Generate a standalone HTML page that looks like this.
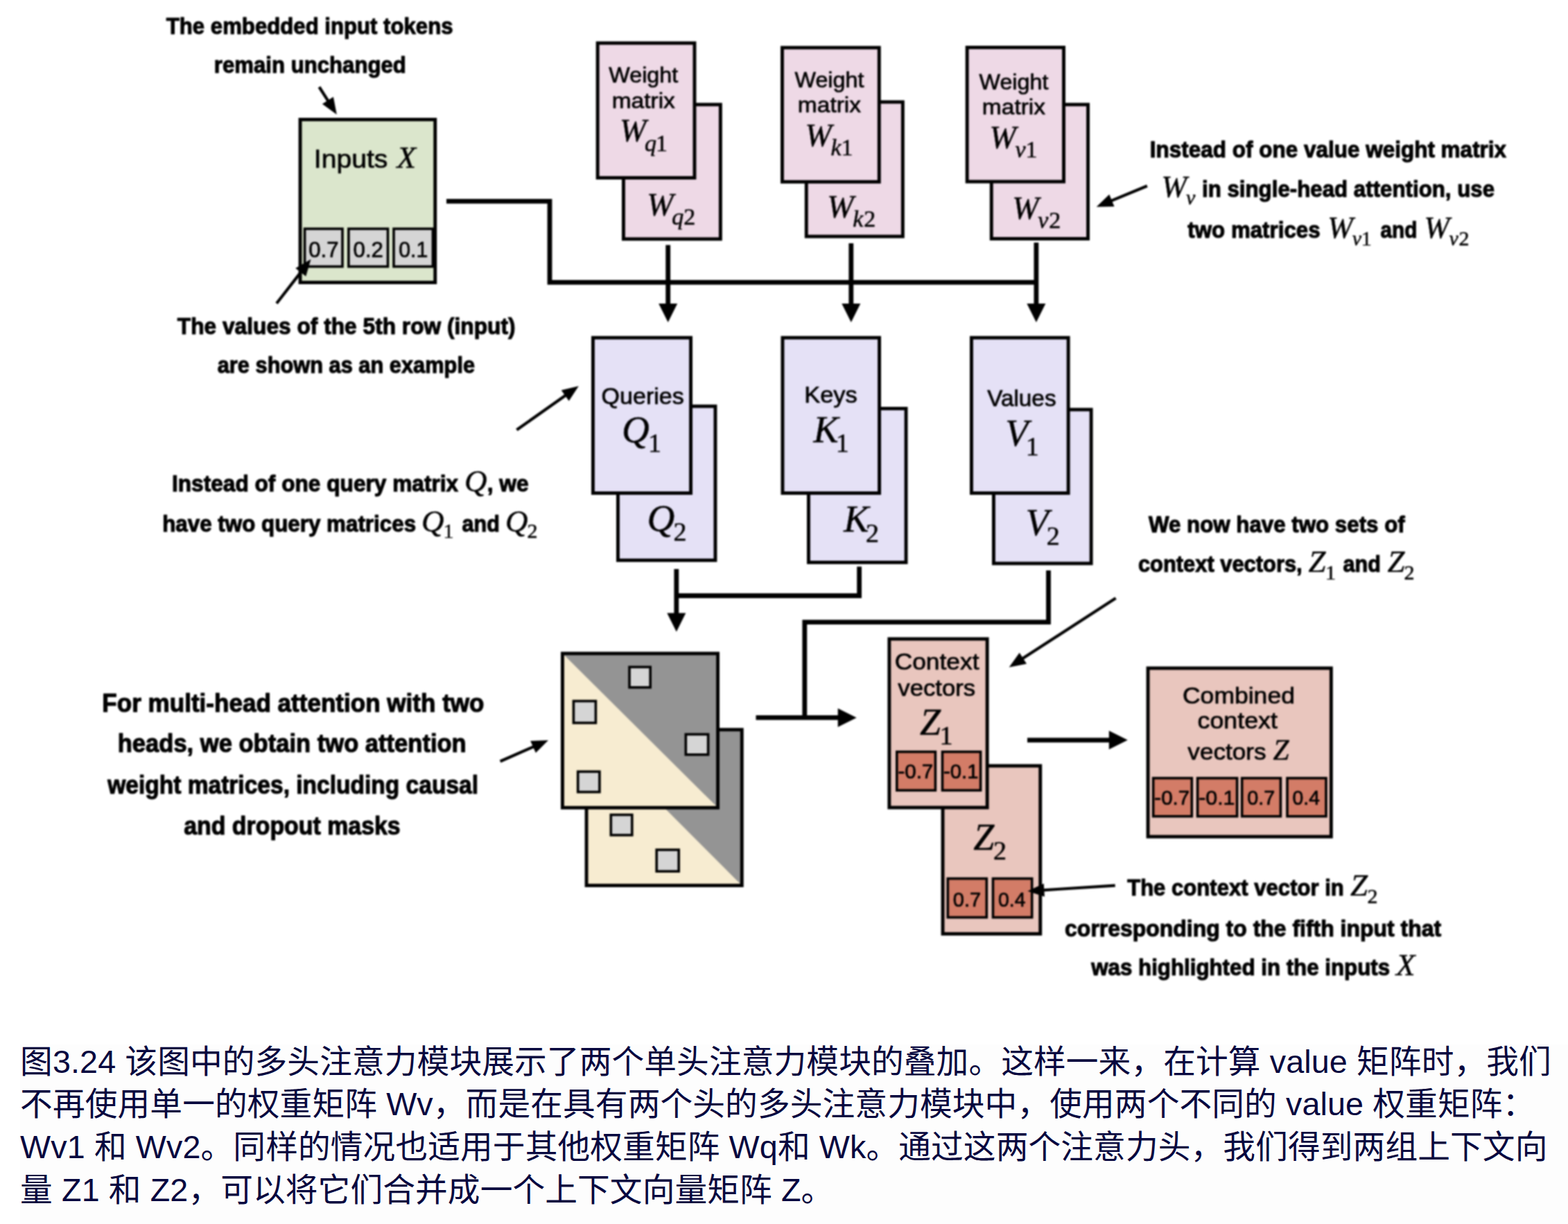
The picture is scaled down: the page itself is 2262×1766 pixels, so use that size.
<!DOCTYPE html>
<html lang="zh-CN">
<head>
<meta charset="utf-8">
<title>图3.24 多头注意力模块</title>
<style>
html,body{margin:0;padding:0;background:#fff;}
body{width:2262px;height:1766px;}
svg{display:block;}
text{white-space:pre;}
</style>
</head>
<body>
<svg width="2262" height="1766" viewBox="0 0 2262 1766">
<defs>
<filter id="soft" x="0" y="0" width="2262" height="1766" filterUnits="userSpaceOnUse" color-interpolation-filters="sRGB"><feGaussianBlur stdDeviation="0.85"/></filter>
</defs>
<rect x="0" y="0" width="2262" height="1766" fill="#ffffff"/>
<rect x="29" y="1507" width="2233" height="259" fill="#fdfdfd"/>
<g filter="url(#soft)">
<rect x="433.05" y="172.45" width="194.70" height="235.10" fill="#dbe6cc" stroke="#000" stroke-width="4.9"/>
<text x="452.82" y="241.80" font-family='"Liberation Sans", sans-serif' font-size="37.5" font-weight="normal" font-style="normal" fill="#000" stroke="#000" stroke-width="0.7" stroke-linejoin="round" textLength="106.61" lengthAdjust="spacingAndGlyphs">Inputs</text>
<text x="572.40" y="241.80" font-family='"Liberation Serif", serif' font-size="45" font-style="italic" fill="#000" stroke="#000" stroke-width="0.5" stroke-linejoin="round">X</text>
<rect x="439.60" y="330.10" width="54.40" height="54.50" fill="#d5d5d5" stroke="#000" stroke-width="3.6"/>
<text x="445.24" y="370.50" font-family='"Liberation Sans", sans-serif' font-size="31" font-weight="normal" font-style="normal" fill="#000" stroke="#000" stroke-width="0.7" stroke-linejoin="round" textLength="43.35" lengthAdjust="spacingAndGlyphs">0.7</text>
<rect x="502.90" y="330.10" width="56.60" height="54.50" fill="#d5d5d5" stroke="#000" stroke-width="3.6"/>
<text x="509.64" y="370.50" font-family='"Liberation Sans", sans-serif' font-size="31" font-weight="normal" font-style="normal" fill="#000" stroke="#000" stroke-width="0.7" stroke-linejoin="round" textLength="43.35" lengthAdjust="spacingAndGlyphs">0.2</text>
<rect x="568.00" y="330.10" width="56.40" height="54.50" fill="#d5d5d5" stroke="#000" stroke-width="3.6"/>
<text x="575.27" y="370.50" font-family='"Liberation Sans", sans-serif' font-size="31" font-weight="normal" font-style="normal" fill="#000" stroke="#000" stroke-width="0.7" stroke-linejoin="round" textLength="42.09" lengthAdjust="spacingAndGlyphs">0.1</text>
<rect x="899.45" y="150.85" width="139.90" height="194.00" fill="#eed9e6" stroke="#000" stroke-width="4.9"/>
<rect x="862.15" y="62.15" width="139.80" height="194.40" fill="#eed9e6" stroke="#000" stroke-width="4.9"/>
<rect x="1163.25" y="147.15" width="139.10" height="194.00" fill="#eed9e6" stroke="#000" stroke-width="4.9"/>
<rect x="1128.45" y="68.75" width="139.80" height="193.60" fill="#eed9e6" stroke="#000" stroke-width="4.9"/>
<rect x="1430.25" y="150.85" width="139.30" height="193.60" fill="#eed9e6" stroke="#000" stroke-width="4.9"/>
<rect x="1395.15" y="68.45" width="139.40" height="193.60" fill="#eed9e6" stroke="#000" stroke-width="4.9"/>
<text x="878.35" y="119.40" font-family='"Liberation Sans", sans-serif' font-size="32" font-weight="normal" font-style="normal" fill="#000" stroke="#000" stroke-width="0.7" stroke-linejoin="round" textLength="99.79" lengthAdjust="spacingAndGlyphs">Weight</text>
<text x="882.66" y="155.60" font-family='"Liberation Sans", sans-serif' font-size="32" font-weight="normal" font-style="normal" fill="#000" stroke="#000" stroke-width="0.7" stroke-linejoin="round" textLength="91.19" lengthAdjust="spacingAndGlyphs">matrix</text>
<text x="1146.55" y="125.90" font-family='"Liberation Sans", sans-serif' font-size="32" font-weight="normal" font-style="normal" fill="#000" stroke="#000" stroke-width="0.7" stroke-linejoin="round" textLength="99.79" lengthAdjust="spacingAndGlyphs">Weight</text>
<text x="1150.86" y="162.10" font-family='"Liberation Sans", sans-serif' font-size="32" font-weight="normal" font-style="normal" fill="#000" stroke="#000" stroke-width="0.7" stroke-linejoin="round" textLength="91.19" lengthAdjust="spacingAndGlyphs">matrix</text>
<text x="1412.55" y="128.90" font-family='"Liberation Sans", sans-serif' font-size="32" font-weight="normal" font-style="normal" fill="#000" stroke="#000" stroke-width="0.7" stroke-linejoin="round" textLength="99.79" lengthAdjust="spacingAndGlyphs">Weight</text>
<text x="1416.86" y="165.10" font-family='"Liberation Sans", sans-serif' font-size="32" font-weight="normal" font-style="normal" fill="#000" stroke="#000" stroke-width="0.7" stroke-linejoin="round" textLength="91.19" lengthAdjust="spacingAndGlyphs">matrix</text>
<text x="894.00" y="204.30" font-family='"Liberation Serif", serif' font-size="46" font-style="italic" fill="#000" stroke="#000" stroke-width="0.5" stroke-linejoin="round">W</text>
<text x="930.00" y="217.50" font-family='"Liberation Serif", serif' font-size="34" font-style="italic" fill="#000" stroke="#000" stroke-width="0.5" stroke-linejoin="round">q</text>
<text x="946.00" y="217.50" font-family='"Liberation Serif", serif' font-size="34" font-style="normal" fill="#000" stroke="#000" stroke-width="0.5" stroke-linejoin="round">1</text>
<text x="1161.50" y="210.80" font-family='"Liberation Serif", serif' font-size="46" font-style="italic" fill="#000" stroke="#000" stroke-width="0.5" stroke-linejoin="round">W</text>
<text x="1198.50" y="224.00" font-family='"Liberation Serif", serif' font-size="34" font-style="italic" fill="#000" stroke="#000" stroke-width="0.5" stroke-linejoin="round">k</text>
<text x="1213.50" y="224.00" font-family='"Liberation Serif", serif' font-size="34" font-style="normal" fill="#000" stroke="#000" stroke-width="0.5" stroke-linejoin="round">1</text>
<text x="1427.50" y="213.80" font-family='"Liberation Serif", serif' font-size="46" font-style="italic" fill="#000" stroke="#000" stroke-width="0.5" stroke-linejoin="round">W</text>
<text x="1464.50" y="227.00" font-family='"Liberation Serif", serif' font-size="34" font-style="italic" fill="#000" stroke="#000" stroke-width="0.5" stroke-linejoin="round">v</text>
<text x="1479.50" y="227.00" font-family='"Liberation Serif", serif' font-size="34" font-style="normal" fill="#000" stroke="#000" stroke-width="0.5" stroke-linejoin="round">1</text>
<text x="933.30" y="311.20" font-family='"Liberation Serif", serif' font-size="46" font-style="italic" fill="#000" stroke="#000" stroke-width="0.5" stroke-linejoin="round">W</text>
<text x="969.30" y="324.40" font-family='"Liberation Serif", serif' font-size="34" font-style="italic" fill="#000" stroke="#000" stroke-width="0.5" stroke-linejoin="round">q</text>
<text x="986.30" y="324.40" font-family='"Liberation Serif", serif' font-size="34" font-style="normal" fill="#000" stroke="#000" stroke-width="0.5" stroke-linejoin="round">2</text>
<text x="1193.30" y="314.00" font-family='"Liberation Serif", serif' font-size="46" font-style="italic" fill="#000" stroke="#000" stroke-width="0.5" stroke-linejoin="round">W</text>
<text x="1230.30" y="327.20" font-family='"Liberation Serif", serif' font-size="34" font-style="italic" fill="#000" stroke="#000" stroke-width="0.5" stroke-linejoin="round">k</text>
<text x="1246.30" y="327.20" font-family='"Liberation Serif", serif' font-size="34" font-style="normal" fill="#000" stroke="#000" stroke-width="0.5" stroke-linejoin="round">2</text>
<text x="1460.30" y="316.20" font-family='"Liberation Serif", serif' font-size="46" font-style="italic" fill="#000" stroke="#000" stroke-width="0.5" stroke-linejoin="round">W</text>
<text x="1497.30" y="329.40" font-family='"Liberation Serif", serif' font-size="34" font-style="italic" fill="#000" stroke="#000" stroke-width="0.5" stroke-linejoin="round">v</text>
<text x="1513.30" y="329.40" font-family='"Liberation Serif", serif' font-size="34" font-style="normal" fill="#000" stroke="#000" stroke-width="0.5" stroke-linejoin="round">2</text>
<path d="M644.00 290.30 L793.00 290.30 L793.00 407.30 L1494.90 407.30" fill="none" stroke="#000" stroke-width="6.8" stroke-linejoin="miter"/>
<line x1="963.70" y1="353.50" x2="963.70" y2="440.00" stroke="#000" stroke-width="6.8"/>
<polygon points="963.70,465.00 950.20,438.00 977.20,438.00" fill="#000"/>
<line x1="1227.80" y1="351.00" x2="1227.80" y2="440.00" stroke="#000" stroke-width="6.8"/>
<polygon points="1227.80,465.00 1214.30,438.00 1241.30,438.00" fill="#000"/>
<line x1="1494.90" y1="350.00" x2="1494.90" y2="440.00" stroke="#000" stroke-width="6.8"/>
<polygon points="1494.90,465.00 1481.40,438.00 1508.40,438.00" fill="#000"/>
<rect x="891.45" y="586.15" width="140.50" height="222.20" fill="#e5e1f6" stroke="#000" stroke-width="4.9"/>
<rect x="855.45" y="487.25" width="141.10" height="224.20" fill="#e5e1f6" stroke="#000" stroke-width="4.9"/>
<rect x="1166.45" y="589.45" width="140.60" height="222.00" fill="#e5e1f6" stroke="#000" stroke-width="4.9"/>
<rect x="1128.95" y="487.25" width="139.60" height="224.20" fill="#e5e1f6" stroke="#000" stroke-width="4.9"/>
<rect x="1433.45" y="590.95" width="140.70" height="222.00" fill="#e5e1f6" stroke="#000" stroke-width="4.9"/>
<rect x="1401.45" y="487.25" width="139.70" height="224.20" fill="#e5e1f6" stroke="#000" stroke-width="4.9"/>
<text x="867.62" y="582.60" font-family='"Liberation Sans", sans-serif' font-size="33" font-weight="normal" font-style="normal" fill="#000" stroke="#000" stroke-width="0.7" stroke-linejoin="round" textLength="119.15" lengthAdjust="spacingAndGlyphs">Queries</text>
<text x="1160.26" y="580.80" font-family='"Liberation Sans", sans-serif' font-size="33" font-weight="normal" font-style="normal" fill="#000" stroke="#000" stroke-width="0.7" stroke-linejoin="round" textLength="76.51" lengthAdjust="spacingAndGlyphs">Keys</text>
<text x="1424.15" y="586.30" font-family='"Liberation Sans", sans-serif' font-size="33" font-weight="normal" font-style="normal" fill="#000" stroke="#000" stroke-width="0.7" stroke-linejoin="round" textLength="99.40" lengthAdjust="spacingAndGlyphs">Values</text>
<text x="897.00" y="637.60" font-family='"Liberation Serif", serif' font-size="55" font-style="italic" fill="#000" stroke="#000" stroke-width="0.5" stroke-linejoin="round">Q</text>
<text x="935.00" y="652.20" font-family='"Liberation Serif", serif' font-size="38" font-style="normal" fill="#000" stroke="#000" stroke-width="0.5" stroke-linejoin="round">1</text>
<text x="1173.50" y="638.00" font-family='"Liberation Serif", serif' font-size="54" font-style="italic" fill="#000" stroke="#000" stroke-width="0.5" stroke-linejoin="round">K</text>
<text x="1205.70" y="652.20" font-family='"Liberation Serif", serif' font-size="38" font-style="normal" fill="#000" stroke="#000" stroke-width="0.5" stroke-linejoin="round">1</text>
<text x="1450.20" y="642.50" font-family='"Liberation Serif", serif' font-size="54" font-style="italic" fill="#000" stroke="#000" stroke-width="0.5" stroke-linejoin="round">V</text>
<text x="1479.80" y="657.20" font-family='"Liberation Serif", serif' font-size="38" font-style="normal" fill="#000" stroke="#000" stroke-width="0.5" stroke-linejoin="round">1</text>
<text x="933.50" y="765.60" font-family='"Liberation Serif", serif' font-size="55" font-style="italic" fill="#000" stroke="#000" stroke-width="0.5" stroke-linejoin="round">Q</text>
<text x="971.50" y="780.00" font-family='"Liberation Serif", serif' font-size="38" font-style="normal" fill="#000" stroke="#000" stroke-width="0.5" stroke-linejoin="round">2</text>
<text x="1217.30" y="767.00" font-family='"Liberation Serif", serif' font-size="54" font-style="italic" fill="#000" stroke="#000" stroke-width="0.5" stroke-linejoin="round">K</text>
<text x="1249.00" y="781.50" font-family='"Liberation Serif", serif' font-size="38" font-style="normal" fill="#000" stroke="#000" stroke-width="0.5" stroke-linejoin="round">2</text>
<text x="1479.80" y="771.50" font-family='"Liberation Serif", serif' font-size="54" font-style="italic" fill="#000" stroke="#000" stroke-width="0.5" stroke-linejoin="round">V</text>
<text x="1509.70" y="786.30" font-family='"Liberation Serif", serif' font-size="38" font-style="normal" fill="#000" stroke="#000" stroke-width="0.5" stroke-linejoin="round">2</text>
<path d="M1239.60 817.40 L1239.60 859.50 L975.80 859.50" fill="none" stroke="#000" stroke-width="6.8" stroke-linejoin="miter"/>
<line x1="975.80" y1="821.00" x2="975.80" y2="886.50" stroke="#000" stroke-width="6.8"/>
<polygon points="975.80,911.50 962.30,884.50 989.30,884.50" fill="#000"/>
<path d="M1512.50 822.90 L1512.50 897.60 L1160.80 897.60 L1160.80 1035.00" fill="none" stroke="#000" stroke-width="6.8" stroke-linejoin="miter"/>
<line x1="1090.50" y1="1035.40" x2="1210.70" y2="1035.40" stroke="#000" stroke-width="6.8"/>
<polygon points="1235.70,1035.40 1208.70,1048.90 1208.70,1021.90" fill="#000"/>
<line x1="1482.00" y1="1067.80" x2="1601.80" y2="1067.80" stroke="#000" stroke-width="6.8"/>
<polygon points="1626.80,1067.80 1599.80,1081.30 1599.80,1054.30" fill="#000"/>
<rect x="846.05" y="1052.75" width="224.20" height="224.80" fill="#f7ecd1"/>
<polygon points="846.05,1052.75 1070.25,1052.75 1070.25,1277.55" fill="#949494"/>
<rect x="846.05" y="1052.75" width="224.20" height="224.80" fill="none" stroke="#000" stroke-width="4.9"/>
<rect x="881.30" y="1175.60" width="30.50" height="29.30" fill="#d5d5d5" stroke="#000" stroke-width="3.6"/>
<rect x="947.20" y="1226.10" width="32.00" height="31.10" fill="#d5d5d5" stroke="#000" stroke-width="3.6"/>
<rect x="811.45" y="942.85" width="224.10" height="222.50" fill="#f7ecd1"/>
<polygon points="811.45,942.85 1035.55,942.85 1035.55,1165.35" fill="#949494"/>
<rect x="811.45" y="942.85" width="224.10" height="222.50" fill="none" stroke="#000" stroke-width="4.9"/>
<rect x="908.00" y="962.40" width="30.20" height="29.40" fill="#d5d5d5" stroke="#000" stroke-width="3.6"/>
<rect x="827.40" y="1011.50" width="32.00" height="31.50" fill="#d5d5d5" stroke="#000" stroke-width="3.6"/>
<rect x="989.30" y="1059.50" width="32.30" height="29.30" fill="#d5d5d5" stroke="#000" stroke-width="3.6"/>
<rect x="833.70" y="1113.30" width="31.20" height="29.40" fill="#d5d5d5" stroke="#000" stroke-width="3.6"/>
<rect x="1360.05" y="1104.95" width="140.70" height="242.40" fill="#e9c6be" stroke="#000" stroke-width="4.9"/>
<rect x="1282.85" y="921.85" width="141.30" height="243.30" fill="#e9c6be" stroke="#000" stroke-width="4.9"/>
<text x="1290.68" y="966.00" font-family='"Liberation Sans", sans-serif' font-size="33" font-weight="normal" font-style="normal" fill="#000" stroke="#000" stroke-width="0.7" stroke-linejoin="round" textLength="121.85" lengthAdjust="spacingAndGlyphs">Context</text>
<text x="1295.35" y="1003.80" font-family='"Liberation Sans", sans-serif' font-size="33" font-weight="normal" font-style="normal" fill="#000" stroke="#000" stroke-width="0.7" stroke-linejoin="round" textLength="111.83" lengthAdjust="spacingAndGlyphs">vectors</text>
<text x="1327.00" y="1060.20" font-family='"Liberation Serif", serif' font-size="54" font-style="italic" fill="#000" stroke="#000" stroke-width="0.5" stroke-linejoin="round">Z</text>
<text x="1355.50" y="1073.50" font-family='"Liberation Serif", serif' font-size="38" font-style="normal" fill="#000" stroke="#000" stroke-width="0.5" stroke-linejoin="round">1</text>
<text x="1404.20" y="1226.00" font-family='"Liberation Serif", serif' font-size="54" font-style="italic" fill="#000" stroke="#000" stroke-width="0.5" stroke-linejoin="round">Z</text>
<text x="1433.00" y="1239.50" font-family='"Liberation Serif", serif' font-size="38" font-style="normal" fill="#000" stroke="#000" stroke-width="0.5" stroke-linejoin="round">2</text>
<rect x="1293.80" y="1084.70" width="55.60" height="55.60" fill="#d37c67" stroke="#000" stroke-width="3.6"/>
<text x="1295.43" y="1122.50" font-family='"Liberation Sans", sans-serif' font-size="29" font-weight="normal" font-style="normal" fill="#000" stroke="#000" stroke-width="0.7" stroke-linejoin="round" textLength="50.87" lengthAdjust="spacingAndGlyphs">-0.7</text>
<rect x="1359.50" y="1084.70" width="55.10" height="55.60" fill="#d37c67" stroke="#000" stroke-width="3.6"/>
<text x="1361.14" y="1122.50" font-family='"Liberation Sans", sans-serif' font-size="29" font-weight="normal" font-style="normal" fill="#000" stroke="#000" stroke-width="0.7" stroke-linejoin="round" textLength="50.34" lengthAdjust="spacingAndGlyphs">-0.1</text>
<rect x="1367.30" y="1267.60" width="56.00" height="56.00" fill="#d37c67" stroke="#000" stroke-width="3.6"/>
<text x="1374.85" y="1308.00" font-family='"Liberation Sans", sans-serif' font-size="29" font-weight="normal" font-style="normal" fill="#000" stroke="#000" stroke-width="0.7" stroke-linejoin="round" textLength="40.33" lengthAdjust="spacingAndGlyphs">0.7</text>
<rect x="1432.50" y="1267.60" width="56.20" height="56.00" fill="#d37c67" stroke="#000" stroke-width="3.6"/>
<text x="1440.07" y="1308.00" font-family='"Liberation Sans", sans-serif' font-size="29" font-weight="normal" font-style="normal" fill="#000" stroke="#000" stroke-width="0.7" stroke-linejoin="round" textLength="39.51" lengthAdjust="spacingAndGlyphs">0.4</text>
<rect x="1656.05" y="964.05" width="264.30" height="243.10" fill="#e9c6be" stroke="#000" stroke-width="4.9"/>
<text x="1705.97" y="1015.00" font-family='"Liberation Sans", sans-serif' font-size="33" font-weight="normal" font-style="normal" fill="#000" stroke="#000" stroke-width="0.7" stroke-linejoin="round" textLength="161.93" lengthAdjust="spacingAndGlyphs">Combined</text>
<text x="1727.57" y="1051.20" font-family='"Liberation Sans", sans-serif' font-size="33" font-weight="normal" font-style="normal" fill="#000" stroke="#000" stroke-width="0.7" stroke-linejoin="round" textLength="115.27" lengthAdjust="spacingAndGlyphs">context</text>
<text x="1713.35" y="1096.30" font-family='"Liberation Sans", sans-serif' font-size="33" font-weight="normal" font-style="normal" fill="#000" stroke="#000" stroke-width="0.7" stroke-linejoin="round" textLength="113.33" lengthAdjust="spacingAndGlyphs">vectors</text>
<text x="1836.50" y="1096.30" font-family='"Liberation Serif", serif' font-size="41.5" font-style="italic" fill="#000" stroke="#000" stroke-width="0.5" stroke-linejoin="round">Z</text>
<rect x="1663.70" y="1122.70" width="55.60" height="55.10" fill="#d37c67" stroke="#000" stroke-width="3.6"/>
<text x="1665.33" y="1161.30" font-family='"Liberation Sans", sans-serif' font-size="29" font-weight="normal" font-style="normal" fill="#000" stroke="#000" stroke-width="0.7" stroke-linejoin="round" textLength="50.87" lengthAdjust="spacingAndGlyphs">-0.7</text>
<rect x="1727.60" y="1122.70" width="57.00" height="55.10" fill="#d37c67" stroke="#000" stroke-width="3.6"/>
<text x="1729.20" y="1161.30" font-family='"Liberation Sans", sans-serif' font-size="29" font-weight="normal" font-style="normal" fill="#000" stroke="#000" stroke-width="0.7" stroke-linejoin="round" textLength="52.33" lengthAdjust="spacingAndGlyphs">-0.1</text>
<rect x="1791.70" y="1122.70" width="55.70" height="55.10" fill="#d37c67" stroke="#000" stroke-width="3.6"/>
<text x="1799.26" y="1161.30" font-family='"Liberation Sans", sans-serif' font-size="29" font-weight="normal" font-style="normal" fill="#000" stroke="#000" stroke-width="0.7" stroke-linejoin="round" textLength="40.01" lengthAdjust="spacingAndGlyphs">0.7</text>
<rect x="1857.00" y="1122.70" width="56.00" height="55.10" fill="#d37c67" stroke="#000" stroke-width="3.6"/>
<text x="1864.58" y="1161.30" font-family='"Liberation Sans", sans-serif' font-size="29" font-weight="normal" font-style="normal" fill="#000" stroke="#000" stroke-width="0.7" stroke-linejoin="round" textLength="39.30" lengthAdjust="spacingAndGlyphs">0.4</text>
<text x="239.75" y="49.10" font-family='"Liberation Sans", sans-serif' font-size="33.6" font-weight="bold" font-style="normal" fill="#000" stroke="#000" stroke-width="1.1" stroke-linejoin="round" textLength="413.83" lengthAdjust="spacingAndGlyphs">The embedded input tokens</text>
<text x="308.79" y="104.70" font-family='"Liberation Sans", sans-serif' font-size="33.6" font-weight="bold" font-style="normal" fill="#000" stroke="#000" stroke-width="1.1" stroke-linejoin="round" textLength="277.06" lengthAdjust="spacingAndGlyphs">remain unchanged</text>
<line x1="460.50" y1="125.50" x2="473.98" y2="146.65" stroke="#000" stroke-width="4.2"/>
<polygon points="485.80,165.20 464.89,150.07 480.91,139.85" fill="#000"/>
<text x="255.85" y="482.10" font-family='"Liberation Sans", sans-serif' font-size="33.6" font-weight="bold" font-style="normal" fill="#000" stroke="#000" stroke-width="1.1" stroke-linejoin="round" textLength="487.72" lengthAdjust="spacingAndGlyphs">The values of the 5th row (input)</text>
<text x="313.75" y="537.50" font-family='"Liberation Sans", sans-serif' font-size="33.6" font-weight="bold" font-style="normal" fill="#000" stroke="#000" stroke-width="1.1" stroke-linejoin="round" textLength="371.32" lengthAdjust="spacingAndGlyphs">are shown as an example</text>
<line x1="399.00" y1="437.70" x2="435.00" y2="391.37" stroke="#000" stroke-width="4.2"/>
<polygon points="448.50,374.00 441.28,398.78 426.27,387.12" fill="#000"/>
<text x="1658.77" y="227.00" font-family='"Liberation Sans", sans-serif' font-size="33.6" font-weight="bold" font-style="normal" fill="#000" stroke="#000" stroke-width="1.1" stroke-linejoin="round" textLength="514.37" lengthAdjust="spacingAndGlyphs">Instead of one value weight matrix</text>
<text x="1675.50" y="283.90" font-family='"Liberation Serif", serif' font-size="44" font-style="italic" fill="#000" stroke="#000" stroke-width="0.5" stroke-linejoin="round">W</text>
<text x="1711.00" y="295.00" font-family='"Liberation Serif", serif' font-size="30" font-style="italic" fill="#000" stroke="#000" stroke-width="0.5" stroke-linejoin="round">v</text>
<text x="1733.99" y="283.90" font-family='"Liberation Sans", sans-serif' font-size="33.6" font-weight="bold" font-style="normal" fill="#000" stroke="#000" stroke-width="1.1" stroke-linejoin="round" textLength="422.09" lengthAdjust="spacingAndGlyphs">in single-head attention, use</text>
<text x="1713.35" y="342.90" font-family='"Liberation Sans", sans-serif' font-size="33.6" font-weight="bold" font-style="normal" fill="#000" stroke="#000" stroke-width="1.1" stroke-linejoin="round" textLength="191.23" lengthAdjust="spacingAndGlyphs">two matrices</text>
<text x="1915.20" y="342.90" font-family='"Liberation Serif", serif' font-size="44" font-style="italic" fill="#000" stroke="#000" stroke-width="0.5" stroke-linejoin="round">W</text>
<text x="1950.80" y="354.00" font-family='"Liberation Serif", serif' font-size="30" font-style="italic" fill="#000" stroke="#000" stroke-width="0.5" stroke-linejoin="round">v</text>
<text x="1963.80" y="354.00" font-family='"Liberation Serif", serif' font-size="30" font-style="normal" fill="#000" stroke="#000" stroke-width="0.5" stroke-linejoin="round">1</text>
<text x="1991.55" y="342.90" font-family='"Liberation Sans", sans-serif' font-size="33.6" font-weight="bold" font-style="normal" fill="#000" stroke="#000" stroke-width="1.1" stroke-linejoin="round" textLength="52.73" lengthAdjust="spacingAndGlyphs">and</text>
<text x="2054.50" y="342.90" font-family='"Liberation Serif", serif' font-size="44" font-style="italic" fill="#000" stroke="#000" stroke-width="0.5" stroke-linejoin="round">W</text>
<text x="2090.50" y="354.00" font-family='"Liberation Serif", serif' font-size="30" font-style="italic" fill="#000" stroke="#000" stroke-width="0.5" stroke-linejoin="round">v</text>
<text x="2104.50" y="354.00" font-family='"Liberation Serif", serif' font-size="30" font-style="normal" fill="#000" stroke="#000" stroke-width="0.5" stroke-linejoin="round">2</text>
<line x1="1654.90" y1="268.20" x2="1602.03" y2="290.09" stroke="#000" stroke-width="4.2"/>
<polygon points="1581.70,298.50 1600.24,280.54 1607.51,298.10" fill="#000"/>
<text x="247.97" y="708.90" font-family='"Liberation Sans", sans-serif' font-size="33.6" font-weight="bold" font-style="normal" fill="#000" stroke="#000" stroke-width="1.1" stroke-linejoin="round" textLength="413.18" lengthAdjust="spacingAndGlyphs">Instead of one query matrix</text>
<text x="670.00" y="708.90" font-family='"Liberation Serif", serif' font-size="45" font-style="italic" fill="#000" stroke="#000" stroke-width="0.5" stroke-linejoin="round">Q</text>
<text x="702.66" y="708.90" font-family='"Liberation Sans", sans-serif' font-size="33.6" font-weight="bold" font-style="normal" fill="#000" stroke="#000" stroke-width="1.1" stroke-linejoin="round" textLength="60.03" lengthAdjust="spacingAndGlyphs">, we</text>
<text x="234.18" y="766.60" font-family='"Liberation Sans", sans-serif' font-size="33.6" font-weight="bold" font-style="normal" fill="#000" stroke="#000" stroke-width="1.1" stroke-linejoin="round" textLength="365.90" lengthAdjust="spacingAndGlyphs">have two query matrices</text>
<text x="608.00" y="766.60" font-family='"Liberation Serif", serif' font-size="45" font-style="italic" fill="#000" stroke="#000" stroke-width="0.5" stroke-linejoin="round">Q</text>
<text x="639.50" y="776.00" font-family='"Liberation Serif", serif' font-size="30" font-style="normal" fill="#000" stroke="#000" stroke-width="0.5" stroke-linejoin="round">1</text>
<text x="666.55" y="766.60" font-family='"Liberation Sans", sans-serif' font-size="33.6" font-weight="bold" font-style="normal" fill="#000" stroke="#000" stroke-width="1.1" stroke-linejoin="round" textLength="54.27" lengthAdjust="spacingAndGlyphs">and</text>
<text x="729.00" y="766.60" font-family='"Liberation Serif", serif' font-size="45" font-style="italic" fill="#000" stroke="#000" stroke-width="0.5" stroke-linejoin="round">Q</text>
<text x="760.50" y="776.00" font-family='"Liberation Serif", serif' font-size="30" font-style="normal" fill="#000" stroke="#000" stroke-width="0.5" stroke-linejoin="round">2</text>
<line x1="745.40" y1="620.30" x2="816.85" y2="569.71" stroke="#000" stroke-width="4.2"/>
<polygon points="834.80,557.00 820.70,578.62 809.72,563.12" fill="#000"/>
<text x="147.33" y="1026.60" font-family='"Liberation Sans", sans-serif' font-size="36.6" font-weight="bold" font-style="normal" fill="#000" stroke="#000" stroke-width="1.1" stroke-linejoin="round" textLength="551.20" lengthAdjust="spacingAndGlyphs">For multi-head attention with two</text>
<text x="169.76" y="1085.40" font-family='"Liberation Sans", sans-serif' font-size="36.6" font-weight="bold" font-style="normal" fill="#000" stroke="#000" stroke-width="1.1" stroke-linejoin="round" textLength="502.96" lengthAdjust="spacingAndGlyphs">heads, we obtain two attention</text>
<text x="155.17" y="1144.60" font-family='"Liberation Sans", sans-serif' font-size="36.6" font-weight="bold" font-style="normal" fill="#000" stroke="#000" stroke-width="1.1" stroke-linejoin="round" textLength="534.87" lengthAdjust="spacingAndGlyphs">weight matrices, including causal</text>
<text x="265.22" y="1204.20" font-family='"Liberation Sans", sans-serif' font-size="36.6" font-weight="bold" font-style="normal" fill="#000" stroke="#000" stroke-width="1.1" stroke-linejoin="round" textLength="312.47" lengthAdjust="spacingAndGlyphs">and dropout masks</text>
<line x1="721.60" y1="1098.50" x2="770.86" y2="1076.85" stroke="#000" stroke-width="4.2"/>
<polygon points="791.00,1068.00 772.85,1086.35 765.21,1068.96" fill="#000"/>
<text x="1657.05" y="768.00" font-family='"Liberation Sans", sans-serif' font-size="33.6" font-weight="bold" font-style="normal" fill="#000" stroke="#000" stroke-width="1.1" stroke-linejoin="round" textLength="369.64" lengthAdjust="spacingAndGlyphs">We now have two sets of</text>
<text x="1641.93" y="824.70" font-family='"Liberation Sans", sans-serif' font-size="33.6" font-weight="bold" font-style="normal" fill="#000" stroke="#000" stroke-width="1.1" stroke-linejoin="round" textLength="236.74" lengthAdjust="spacingAndGlyphs">context vectors,</text>
<text x="1887.50" y="824.70" font-family='"Liberation Serif", serif' font-size="45" font-style="italic" fill="#000" stroke="#000" stroke-width="0.5" stroke-linejoin="round">Z</text>
<text x="1912.00" y="835.70" font-family='"Liberation Serif", serif' font-size="30" font-style="normal" fill="#000" stroke="#000" stroke-width="0.5" stroke-linejoin="round">1</text>
<text x="1937.55" y="824.70" font-family='"Liberation Sans", sans-serif' font-size="33.6" font-weight="bold" font-style="normal" fill="#000" stroke="#000" stroke-width="1.1" stroke-linejoin="round" textLength="54.27" lengthAdjust="spacingAndGlyphs">and</text>
<text x="2001.50" y="824.70" font-family='"Liberation Serif", serif' font-size="45" font-style="italic" fill="#000" stroke="#000" stroke-width="0.5" stroke-linejoin="round">Z</text>
<text x="2025.50" y="835.70" font-family='"Liberation Serif", serif' font-size="30" font-style="normal" fill="#000" stroke="#000" stroke-width="0.5" stroke-linejoin="round">2</text>
<line x1="1609.60" y1="863.00" x2="1474.16" y2="950.83" stroke="#000" stroke-width="4.2"/>
<polygon points="1455.70,962.80 1470.67,941.77 1481.01,957.71" fill="#000"/>
<text x="1626.15" y="1291.70" font-family='"Liberation Sans", sans-serif' font-size="33.6" font-weight="bold" font-style="normal" fill="#000" stroke="#000" stroke-width="1.1" stroke-linejoin="round" textLength="312.70" lengthAdjust="spacingAndGlyphs">The context vector in</text>
<text x="1948.00" y="1291.70" font-family='"Liberation Serif", serif' font-size="45" font-style="italic" fill="#000" stroke="#000" stroke-width="0.5" stroke-linejoin="round">Z</text>
<text x="1972.50" y="1302.70" font-family='"Liberation Serif", serif' font-size="30" font-style="normal" fill="#000" stroke="#000" stroke-width="0.5" stroke-linejoin="round">2</text>
<text x="1536.10" y="1351.40" font-family='"Liberation Sans", sans-serif' font-size="33.6" font-weight="bold" font-style="normal" fill="#000" stroke="#000" stroke-width="1.1" stroke-linejoin="round" textLength="543.02" lengthAdjust="spacingAndGlyphs">corresponding to the fifth input that</text>
<text x="1574.28" y="1407.40" font-family='"Liberation Sans", sans-serif' font-size="33.6" font-weight="bold" font-style="normal" fill="#000" stroke="#000" stroke-width="1.1" stroke-linejoin="round" textLength="430.80" lengthAdjust="spacingAndGlyphs">was highlighted in the inputs</text>
<text x="2014.00" y="1407.40" font-family='"Liberation Serif", serif' font-size="45" font-style="italic" fill="#000" stroke="#000" stroke-width="0.5" stroke-linejoin="round">X</text>
<line x1="1608.70" y1="1277.70" x2="1504.36" y2="1284.31" stroke="#000" stroke-width="4.2"/>
<polygon points="1482.40,1285.70 1505.75,1274.70 1506.95,1293.66" fill="#000"/>
</g>
<g>
<text x="29.1" y="1548.30" font-family='"Liberation Sans", "Noto Sans CJK SC", sans-serif' font-size="46.7" fill="#08083f" textLength="2208.66" lengthAdjust="spacing">图3.24 该图中的多头注意力模块展示了两个单头注意力模块的叠加。这样一来，在计算 value 矩阵时，我们</text>
<text x="29.1" y="1609.00" font-family='"Liberation Sans", "Noto Sans CJK SC", sans-serif' font-size="46.7" fill="#08083f" textLength="2185.13" lengthAdjust="spacing">不再使用单一的权重矩阵 Wv，而是在具有两个头的多头注意力模块中，使用两个不同的 value 权重矩阵：</text>
<text x="29.1" y="1671.20" font-family='"Liberation Sans", "Noto Sans CJK SC", sans-serif' font-size="46.7" fill="#08083f" textLength="2203.26" lengthAdjust="spacing">Wv1 和 Wv2。同样的情况也适用于其他权重矩阵 Wq和 Wk。通过这两个注意力头，我们得到两组上下文向</text>
<text x="29.1" y="1733.40" font-family='"Liberation Sans", "Noto Sans CJK SC", sans-serif' font-size="46.7" fill="#08083f" textLength="1173.20" lengthAdjust="spacing">量 Z1 和 Z2，可以将它们合并成一个上下文向量矩阵 Z。</text>
</g>
</svg>
</body>
</html>
